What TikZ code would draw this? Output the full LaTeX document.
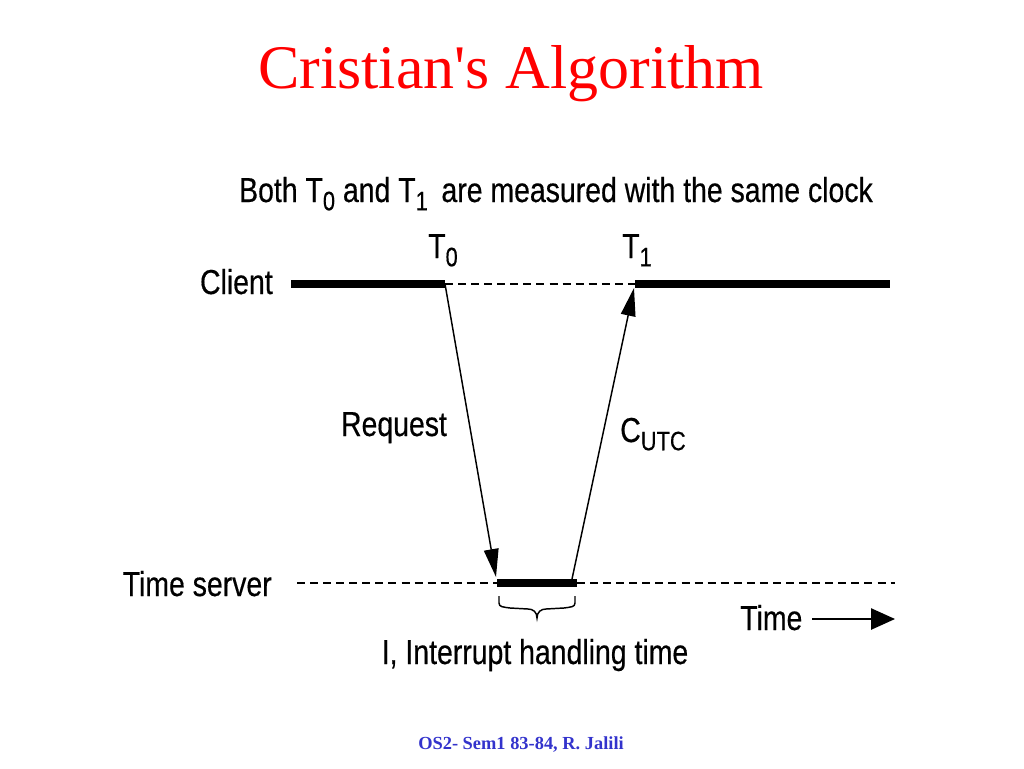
\documentclass[tikz,border=0pt]{standalone}
\usepackage{fontspec}
\setmainfont{Liberation Serif}
\newfontfamily\diagfont{Liberation Sans}[FakeStretch=0.82,FakeBold=0.4]
\usetikzlibrary{arrows.meta}
\definecolor{titlered}{RGB}{255,0,0}
\definecolor{footblue}{RGB}{51,51,204}
\newcommand{\lowsub}[1]{\raisebox{-0.45ex}{\fontsize{20pt}{22pt}\selectfont #1}}
\begin{document}
\begin{tikzpicture}[x=0.75pt,y=-0.75pt,
  lbl/.style={inner sep=0pt,font=\diagfont\fontsize{26pt}{30pt}\selectfont},
  thickline/.style={line width=5.5pt},
  thinline/.style={line width=1.1pt},
  dashline/.style={line width=1.1pt,dash pattern=on 6pt off 3.8pt},
  msg/.style={line width=1.1pt,-{Triangle[length=21pt,width=11pt]}},
]
\useasboundingbox (0,0) rectangle (1024,768);
% title and footer
\node[inner sep=0pt,anchor=base,text=titlered,font=\fontsize{46.5pt}{50pt}\selectfont] (title) at (511,88) {Cristian\textquotesingle s Algorithm};
\node[inner sep=0pt,anchor=base,text=footblue,font=\bfseries\fontsize{13.8pt}{16pt}\selectfont] (foot) at (521,749) {OS2- Sem1 83-84, R. Jalili};
% headline
\node[lbl,anchor=base] (both) at (556,202) {Both T\lowsub{0} and T\lowsub{1}\, are measured with the same clock};
% client line
\coordinate (c0) at (291,284);
\coordinate (t0) at (445,284);
\coordinate (t1) at (635,284);
\coordinate (c1) at (890,284);
\node[lbl,anchor=base east] (client) at (273,294) {Client};
\node[lbl,anchor=base] (T0lab) at (443,258) {T\lowsub{0}};
\node[lbl,anchor=base] (T1lab) at (637,258) {T\lowsub{1}};
\draw[thickline] (c0) -- (t0);
\draw[dashline] (t0) -- (t1);
\draw[thickline] (t1) -- (c1);
% server line
\coordinate (s0) at (297,583);
\coordinate (sa) at (497,583);
\coordinate (sb) at (577,583);
\coordinate (s1) at (895,583);
\node[lbl,anchor=base east] (server) at (272,596) {Time server};
\draw[dashline] (s0) -- (sa);
\draw[line width=6pt] (sa) -- (sb);
\draw[dashline] (sb) -- (s1);
% messages
\coordinate (reqend) at (496,577);
\coordinate (repstart) at (572,579);
\coordinate (repend) at (634,288);
\draw[msg] (t0) -- (reqend);
\draw[msg] (repstart) -- (repend);
\node[lbl,anchor=base] (req) at (394,436) {Request};
\node[lbl,anchor=base west] (cutc) at (620,442) {C\lowsub{UTC}};
% brace
\coordinate (b0) at (499,596);
\coordinate (b1) at (575,596);
\coordinate (btip) at (537,618);
\draw[thinline] (b0) -- (499,603) .. controls (499,607) and (503,607) .. (510,608)
  -- (528,609) .. controls (533,609) and (537,612) .. (btip)
  .. controls (537,612) and (541,609) .. (546,609)
  -- (564,608) .. controls (571,607) and (575,607) .. (575,603) -- (b1);
\node[lbl,anchor=base] (intr) at (535,664) {I, Interrupt handling time};
% time arrow
\node[lbl,anchor=base west] (time) at (740,630) {Time};
\coordinate (ta) at (812,619);
\coordinate (tb) at (895,619);
\draw[line width=1.1pt,-{Triangle[length=18pt,width=16pt]}] (ta) -- (tb);
\end{tikzpicture}
\end{document}
